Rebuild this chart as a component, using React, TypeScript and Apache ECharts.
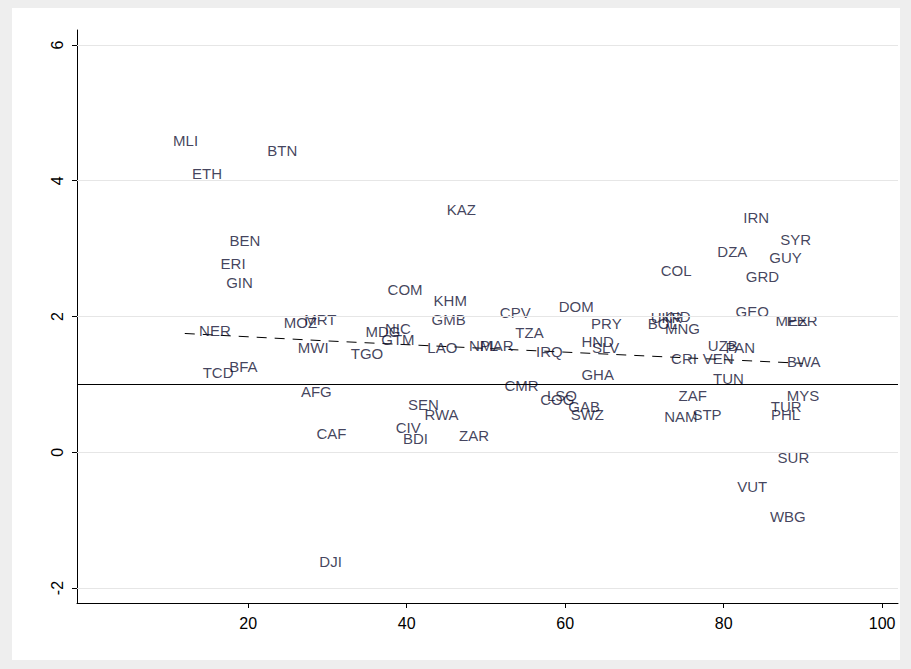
import React, { useEffect, useRef } from "react";
import * as echarts from "echarts";

const codes = ["MLI","BTN","ETH","KAZ","BEN","ERI","GIN","COM","KHM","GMB","CPV","DOM","PRY","TZA","MOZ","MRT","NER","MDG","NIC","GTM","MWI","TGO","LAO","NPL","MAR","IRQ","HND","SLV","GHA","CMR","COG","LSO","GAB","SWZ","BOL","UKR","IND","MNG","GEO","MEX","PER","UZB","PAN","CRI","VEN","BWA","TUN","ZAF","NAM","STP","MYS","TUR","PHL","SUR","VUT","WBG","IRN","SYR","GUY","DZA","GRD","COL","TCD","BFA","AFG","CAF","SEN","RWA","CIV","BDI","ZAR","DJI"];
const xs = [12.1,24.3,14.8,46.9,19.6,18.1,18.9,39.8,45.5,45.3,53.7,61.4,65.2,55.5,26.6,29.1,15.8,37.0,38.9,38.9,28.2,35.0,44.5,49.7,51.4,58.0,64.1,65.1,64.1,54.5,59.0,59.6,62.4,62.8,72.3,72.8,74.2,74.8,83.6,88.6,89.9,79.9,82.1,75.0,79.3,90.1,80.6,76.1,74.6,77.9,90.0,87.9,87.8,88.8,83.6,88.1,84.1,89.1,87.8,81.1,84.9,74.0,16.2,19.4,28.6,30.5,42.1,44.4,40.2,41.1,48.5,30.4];
const ys = [4.59,4.44,4.10,3.58,3.12,2.78,2.50,2.40,2.23,1.95,2.06,2.14,1.89,1.76,1.91,1.95,1.79,1.78,1.83,1.66,1.55,1.46,1.54,1.58,1.58,1.49,1.63,1.55,1.15,0.99,0.78,0.84,0.68,0.56,1.89,1.98,2.00,1.83,2.07,1.94,1.94,1.57,1.55,1.38,1.38,1.33,1.09,0.83,0.52,0.55,0.84,0.68,0.56,-0.07,-0.50,-0.95,3.46,3.14,2.87,2.96,2.59,2.68,1.17,1.26,0.89,0.27,0.71,0.56,0.37,0.21,0.25,-1.61];
const fitX = [12, 30, 50, 70, 90];
const fitY = [1.75, 1.64, 1.53, 1.42, 1.31];
const yTicks = [-2, 0, 2, 4, 6];
const xTicks = [20, 40, 60, 80, 100];

export default function App() {
  const ref = useRef<HTMLDivElement>(null);
  useEffect(() => {
    const chart = echarts.init(ref.current!, undefined, { renderer: "svg" });
    const font = "Liberation Sans, Arial, sans-serif";
    chart.setOption({
      animation: false,
      textStyle: { fontFamily: font },
      graphic: [{ type: "rect", z: -10, shape: { x: 12, y: 8, width: 888, height: 652 }, style: { fill: "#fff" } }],
      grid: { left: 77, right: 13, top: 30, bottom: 66 },
      xAxis: {
        type: "value", min: -1.6, max: 102,
        axisLine: { onZero: false, lineStyle: { color: "#000" } },
        axisTick: { customValues: xTicks, length: 5, lineStyle: { color: "#000" } },
        axisLabel: { customValues: xTicks, color: "#000", fontSize: 16, margin: 12 },
        splitLine: { show: false },
      },
      yAxis: {
        type: "value", min: -2.22, max: 6.22,
        axisLine: { show: true, onZero: false, lineStyle: { color: "#000" } },
        axisTick: { show: true, customValues: yTicks, length: 5, lineStyle: { color: "#000" } },
        axisLabel: { customValues: yTicks, color: "#000", fontSize: 16, rotate: 90, margin: 12 },
        splitLine: { show: false },
      },
      series: [
        {
          type: "line", data: fitX.map((x, i) => [x, fitY[i]]), symbol: "none",
          lineStyle: { color: "#000", type: [10, 8], width: 1 }, z: 1,
          markLine: {
            silent: true, symbol: "none", label: { show: false },
            data: [
              ...yTicks.map((v) => ({ yAxis: v, lineStyle: { color: "#e6e6e6", type: "solid", width: 1 } })),
              { yAxis: 1, lineStyle: { color: "#000", type: "solid", width: 1 } },
            ],
          },
        },
        {
          type: "scatter", symbolSize: 1, itemStyle: { color: "rgba(0,0,0,0)" }, z: 3,
          data: xs.map((x, i) => ({ value: [x, ys[i]], name: codes[i] })),
          label: { show: true, position: "inside", formatter: (p: any) => p.name, color: "#111133", fontSize: 15, fontFamily: font },
        },
      ],
    });
    return () => chart.dispose();
  }, []);
  return (
    <div style={{ position: "fixed", left: 0, top: 0, width: 911, height: 669, background: "#eeeeee" }}>
      <div ref={ref} style={{ width: 911, height: 669 }} />
    </div>
  );
}
